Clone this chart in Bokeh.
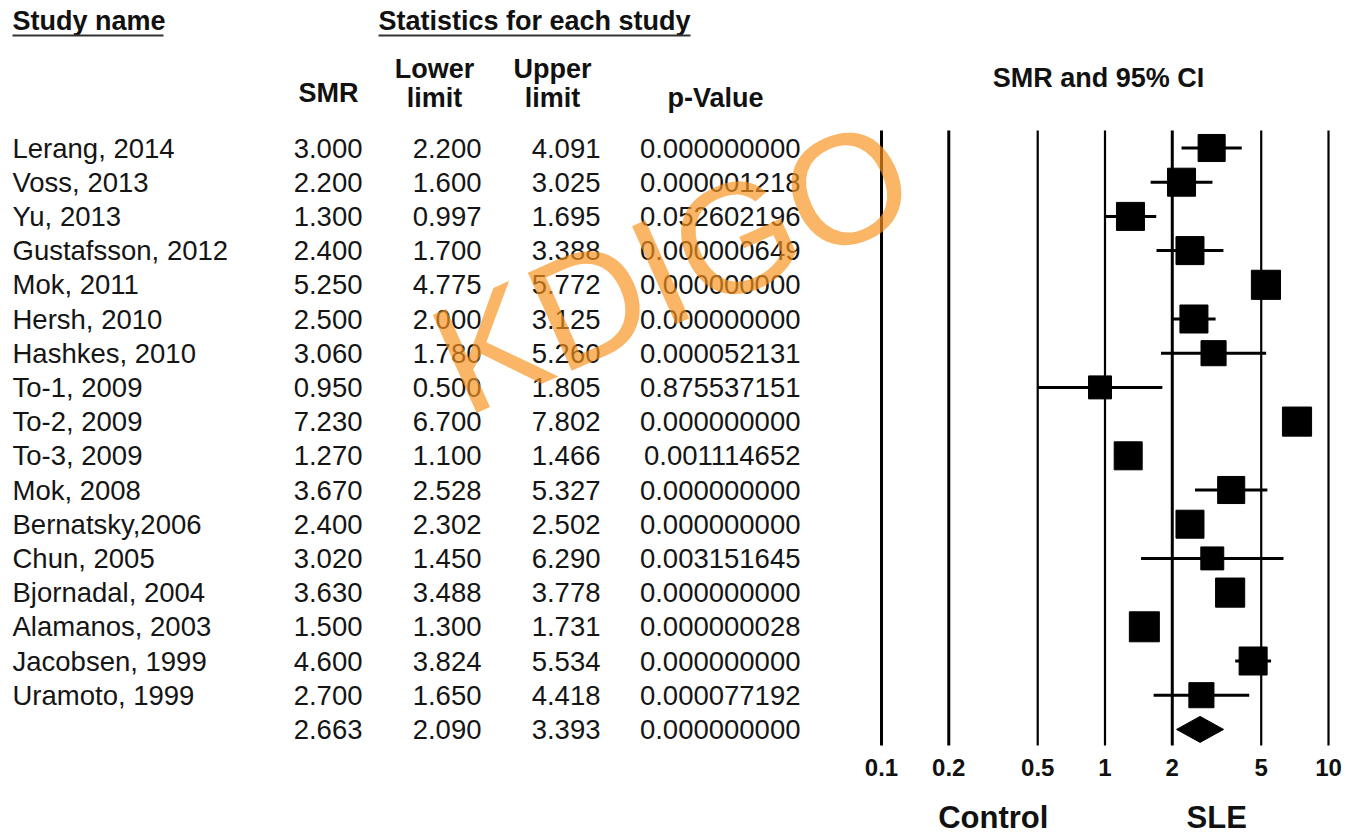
import numpy as np
from bokeh.plotting import figure
from bokeh.models import Range1d, LogScale, LogAxis, LinearAxis, FixedTicker, NumeralTickFormatter
from bokeh.core.properties import value
from bokeh.embed import file_html
from bokeh.resources import INLINE

# ---- data -------------------------------------------------------------
studies = ["Lerang, 2014", "Voss, 2013", "Yu, 2013", "Gustafsson, 2012", "Mok, 2011",
           "Hersh, 2010", "Hashkes, 2010", "To-1, 2009", "To-2, 2009", "To-3, 2009",
           "Mok, 2008", "Bernatsky,2006", "Chun, 2005", "Bjornadal, 2004",
           "Alamanos, 2003", "Jacobsen, 1999", "Uramoto, 1999"]
smr = [3.000, 2.200, 1.300, 2.400, 5.250, 2.500, 3.060, 0.950, 7.230, 1.270,
       3.670, 2.400, 3.020, 3.630, 1.500, 4.600, 2.700]
lower = [2.200, 1.600, 0.997, 1.700, 4.775, 2.000, 1.780, 0.500, 6.700, 1.100,
         2.528, 2.302, 1.450, 3.488, 1.300, 3.824, 1.650]
upper = [4.091, 3.025, 1.695, 3.388, 5.772, 3.125, 5.260, 1.805, 7.802, 1.466,
         5.327, 2.502, 6.290, 3.778, 1.731, 5.534, 4.418]
p_value = [0.000000000, 0.000001218, 0.052602196, 0.000000649, 0.000000000,
           0.000000000, 0.000052131, 0.875537151, 0.000000000, 0.001114652,
           0.000000000, 0.000000000, 0.003151645, 0.000000000, 0.000000028,
           0.000000000, 0.000077192]
# relative weight of each study (%), shown through the size of its square
rel_weight = [5.7, 6.1, 6.1, 6.1, 6.6, 6.1, 4.9, 4.1, 6.6, 6.1,
              5.7, 6.1, 4.1, 6.6, 7.0, 6.1, 4.9]

pooled_smr, pooled_lower, pooled_upper, pooled_p = 2.663, 2.090, 3.393, 0.000000000

axis_ticks = [0.1, 0.2, 0.5, 1, 2, 5, 10]
side_labels = ["Control", "SLE"]

# ---- layout constants (page pixels) ----------------------------------
W, FRAME_H = 1348, 748
ROW0, ROW_STEP = 147.5, 34.2
X_DEC = 223.5                 # pixels per decade on the SMR scale
X_AT_01, X_AT_10 = 881, 1328  # where 0.1 and 10 sit
TXT = "#151515"
HEAD = "#111111"
FONT = value("Liberation Sans")
BODY_SIZE = "27.5px"

n = len(studies)
row_y = [ROW0 + i * ROW_STEP for i in range(n)]
pooled_y = ROW0 + n * ROW_STEP

p = figure(width=W, height=839, frame_width=W, frame_height=FRAME_H,
           x_range=Range1d(0, W), y_range=Range1d(FRAME_H, 0),
           output_backend="svg", toolbar_location=None, min_border=0,
           x_axis_location=None, y_axis_location=None)
p.outline_line_color = None
p.grid.visible = False
p.background_fill_color = "white"
p.border_fill_color = "white"

# log scale for the forest part, sharing the same frame
p.extra_x_ranges = {"smr": Range1d(10 ** (-1 - X_AT_01 / X_DEC),
                                   10 ** (1 + (W - X_AT_10) / X_DEC))}
p.extra_x_scales = {"smr": LogScale()}

# ---- headers ----------------------------------------------------------
def txt(x, y, s, size=BODY_SIZE, style="normal", align="left", color=TXT):
    p.text(x=x, y=y, text=s, text_font=FONT, text_font_size=size,
           text_font_style=style, text_align=align, text_baseline="alphabetic",
           text_color=color)

txt([12], [20], ["Study name"], size="27px", style="bold", color=HEAD)
txt([378], [20], ["Statistics for each study"], size="27px", style="bold", color=HEAD)
p.segment(x0=[12, 378], y0=[35, 35], x1=[163, 690], y1=[35, 35],
          line_color="#333333", line_width=2)

txt([328], [92], ["SMR"], size="27px", style="bold", align="center", color=HEAD)
txt([434, 552], [68, 68], ["Lower", "Upper"], size="27px", style="bold", align="center", color=HEAD)
txt([434, 552], [97, 97], ["limit", "limit"], size="27px", style="bold", align="center", color=HEAD)
txt([715], [97], ["p-Value"], size="27px", style="bold", align="center", color=HEAD)
txt([1098], [77], ["SMR and 95% CI"], size="27px", style="bold", align="center", color=HEAD)

# ---- table body -------------------------------------------------------
txt([12] * n, row_y, studies)
txt([362] * n, row_y, [f"{v:.3f}" for v in smr], align="right")
txt([481] * n, row_y, [f"{v:.3f}" for v in lower], align="right")
txt([600] * n, row_y, [f"{v:.3f}" for v in upper], align="right")
txt([800] * n, row_y, [f"{v:.9f}" for v in p_value], align="right")

pb = [pooled_y]
txt([362], pb, [f"{pooled_smr:.3f}"], align="right")
txt([481], pb, [f"{pooled_lower:.3f}"], align="right")
txt([600], pb, [f"{pooled_upper:.3f}"], align="right")
txt([800], pb, [f"{pooled_p:.9f}"], align="right")

# ---- forest plot ------------------------------------------------------
line_w = [3, 3, 2.2, 2.2, 3, 2.2, 2.2]
p.segment(x0=axis_ticks, y0=[130] * len(axis_ticks), x1=axis_ticks,
          y1=[745] * len(axis_ticks), x_range_name="smr",
          line_color="#000000", line_width=line_w)

p.segment(x0=lower, y0=row_y, x1=upper, y1=row_y, x_range_name="smr",
          line_color="#000000", line_width=3)
sizes = [30 * np.sqrt(w / max(rel_weight)) for w in rel_weight]
p.scatter(x=smr, y=row_y, marker="square", size=sizes, x_range_name="smr",
          fill_color="#000000", line_color="#000000")

half_h = 13
p.patch(x=[pooled_lower, pooled_smr, pooled_upper, pooled_smr],
        y=[pooled_y, pooled_y - half_h, pooled_y, pooled_y + half_h],
        x_range_name="smr", fill_color="#000000", line_color="#000000")

# ---- axes -------------------------------------------------------------
ax = LogAxis(x_range_name="smr", ticker=FixedTicker(ticks=axis_ticks),
             formatter=NumeralTickFormatter(format="0.[0]"))
ax.axis_line_color = None
ax.major_tick_line_color = None
ax.minor_tick_line_color = None
ax.major_tick_out = 0
ax.major_tick_in = 0
ax.major_label_standoff = 10
ax.major_label_text_font = "Liberation Sans"
ax.major_label_text_font_style = "bold"
ax.major_label_text_font_size = "24px"
ax.major_label_text_color = HEAD
p.add_layout(ax, "below")

side_pos = [10 ** -0.5, 10 ** 0.5]
ax2 = LinearAxis(x_range_name="smr", ticker=FixedTicker(ticks=side_pos),
                 major_label_overrides=dict(zip(side_pos, side_labels)))
ax2.axis_line_color = None
ax2.major_tick_line_color = None
ax2.minor_tick_line_color = None
ax2.major_tick_out = 0
ax2.major_tick_in = 0
ax2.major_label_standoff = 21
ax2.major_label_text_font = "Liberation Sans"
ax2.major_label_text_font_style = "bold"
ax2.major_label_text_font_size = "31px"
ax2.major_label_text_color = HEAD
p.add_layout(ax2, "below")

# ---- watermark --------------------------------------------------------
p.text(x=[672], y=[266], text=["KDIGO"], angle=0.42, text_font=FONT,
       text_font_size="156px", text_align="center", text_baseline="middle",
       text_color="#F7931E", text_alpha=0.68)

open("out.html", "w").write(file_html(p, INLINE))
